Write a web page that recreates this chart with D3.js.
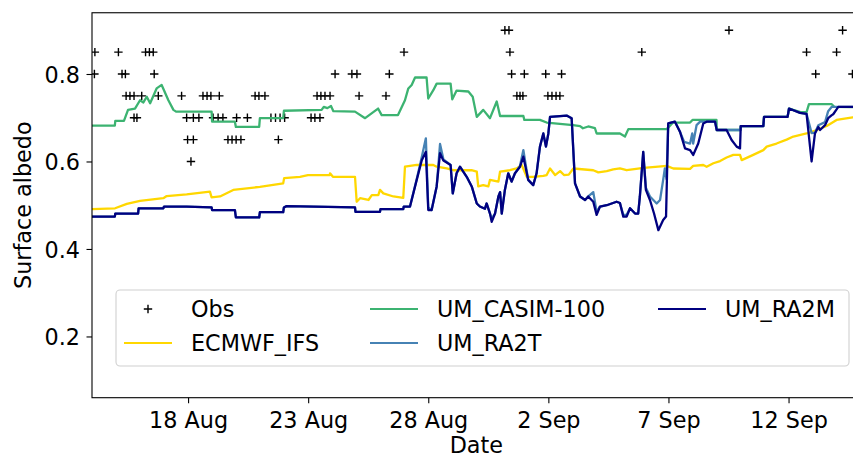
<!DOCTYPE html>
<html>
<head>
<meta charset="utf-8">
<script src="https://cdn.jsdelivr.net/npm/d3@7"></script>
<style>
  html, body { margin: 0; padding: 0; background: #fff; }
  svg { display: block; font-family: "DejaVu Sans", sans-serif; }
</style>
</head>
<body>
<svg id="chart" width="853" height="457"></svg>
<script>
// ---------------- DATA (time = days since 14 Aug 2018 00:00 UTC) ----------------
const xTickDates = ["2018-08-18", "2018-08-23", "2018-08-28", "2018-09-02", "2018-09-07", "2018-09-12"];
const yTicks = [0.2, 0.4, 0.6, 0.8];

const obs = [
  [17.19,0.9],[17.36,0.9],[26.52,0.9],[31.25,0.9],
  [0.12,0.85],[1.10,0.85],[2.23,0.85],[2.39,0.85],[2.55,0.85],[12.99,0.85],[17.40,0.85],[22.89,0.85],[29.75,0.85],[31.00,0.85],
  [0.10,0.8],[1.25,0.8],[1.39,0.8],[2.59,0.8],[10.12,0.8],[10.82,0.8],[11.03,0.8],[12.38,0.8],[17.47,0.8],[18.0,0.8],[18.89,0.8],[19.55,0.8],[30.13,0.8],[31.66,0.8],
  [1.42,0.75],[1.58,0.75],[1.75,0.75],[2.07,0.75],[2.76,0.75],[3.73,0.75],[4.62,0.75],[4.79,0.75],[4.95,0.75],[5.30,0.75],[6.79,0.75],[6.95,0.75],[7.20,0.75],[9.37,0.75],[9.53,0.75],[9.70,0.75],[9.91,0.75],[11.12,0.75],[12.24,0.75],[17.69,0.75],[17.82,0.75],[17.94,0.75],[18.98,0.75],[19.15,0.75],[19.32,0.75],[19.48,0.75],
  [1.75,0.7],[1.87,0.7],[3.94,0.7],[4.22,0.7],[4.45,0.7],[5.04,0.7],[5.25,0.7],[5.45,0.7],[6.02,0.7],[6.47,0.7],[7.45,0.7],[7.64,0.7],[7.83,0.7],[8.02,0.7],[9.12,0.7],[9.28,0.7],[9.49,0.7],
  [3.98,0.65],[4.22,0.65],[5.66,0.65],[5.83,0.65],[6.0,0.65],[6.20,0.65],[7.76,0.65],
  [4.12,0.6]
];

const ecmwf = [
  [0,0.491],[0.96,0.493],[1.45,0.503],[2.0,0.510],[2.97,0.516],[3.11,0.521],[3.94,0.525],[4.91,0.531],[4.98,0.518],[5.33,0.520],
  [5.88,0.535],[6.99,0.542],[7.96,0.550],[8.0,0.562],[8.66,0.565],[8.99,0.569],[9.9,0.569],[9.91,0.573],[10.03,0.565],[10.95,0.565],
  [11.02,0.508],[11.16,0.516],[11.51,0.512],[11.65,0.523],[11.92,0.523],[11.99,0.535],[12.13,0.527],[12.55,0.520],[12.96,0.517],[13.03,0.588],
  [13.52,0.592],[14.21,0.592],[14.35,0.588],[14.77,0.584],[15.05,0.580],[15.8,0.580],[16.02,0.577],[16.08,0.543],[16.29,0.546],[16.5,0.543],
  [16.57,0.558],[16.92,0.554],[16.99,0.577],[17.4,0.580],[17.68,0.584],[17.89,0.592],[18.1,0.565],[18.37,0.565],[18.79,0.567],[18.93,0.569],
  [19.07,0.584],[19.28,0.569],[19.49,0.578],[19.65,0.569],[19.85,0.570],[20.04,0.584],[20.87,0.580],[21.08,0.575],[21.43,0.578],[21.7,0.582],
  [21.98,0.584],[22.26,0.580],[22.81,0.584],[23.09,0.586],[23.93,0.590],[24.2,0.584],[24.9,0.583],[25.03,0.590],[25.45,0.592],[25.59,0.588],
  [25.87,0.596],[26.15,0.601],[26.42,0.609],[26.7,0.615],[26.98,0.615],[27.05,0.603],[27.53,0.615],[27.95,0.626],[28.09,0.634],[28.5,0.641],
  [28.92,0.650],[29.2,0.657],[29.75,0.664],[30.17,0.672],[30.59,0.681],[31.0,0.695],[31.67,0.701],[32,0.702]
];

const casim = [
  [0,0.682],[0.95,0.682],[0.97,0.693],[1.33,0.693],[1.5,0.718],[1.79,0.721],[2.0,0.740],[2.14,0.735],[2.28,0.748],[2.42,0.733],
  [2.69,0.767],[2.9,0.775],[3.18,0.740],[3.39,0.718],[3.5,0.714],[4.98,0.714],[5.0,0.691],[5.95,0.691],[5.99,0.679],[6.96,0.679],
  [6.99,0.699],[7.96,0.699],[7.99,0.716],[9.56,0.718],[9.65,0.725],[9.8,0.722],[9.95,0.727],[10.05,0.715],[10.95,0.714],[11.37,0.699],
  [11.91,0.721],[12.06,0.706],[12.74,0.706],[13.03,0.740],[13.17,0.767],[13.31,0.775],[13.45,0.792],[13.93,0.792],[14.0,0.744],[14.21,0.763],
  [14.35,0.778],[14.93,0.778],[15.0,0.742],[15.18,0.762],[15.67,0.760],[15.85,0.748],[16.02,0.702],[16.29,0.718],[16.57,0.699],[16.85,0.737],
  [16.99,0.704],[17.96,0.704],[18.0,0.695],[18.65,0.695],[18.93,0.689],[20.03,0.683],[20.32,0.681],[20.44,0.676],[20.66,0.680],[20.94,0.676],
  [21.01,0.664],[21.98,0.664],[22.19,0.657],[22.33,0.674],[23.93,0.674],[24.19,0.689],[24.9,0.689],[25.0,0.695],[26.0,0.695],[26.01,0.672],
  [27.0,0.672],[27.01,0.681],[27.95,0.681],[27.98,0.702],[28.96,0.702],[29.02,0.721],[29.5,0.713],[29.75,0.713],[29.85,0.731],[30.8,0.731],
  [30.9,0.725],[32,0.724]
];

const ra2t = [
  [0,0.474],[0.95,0.474],[0.97,0.481],[1.92,0.481],[1.94,0.493],[2.97,0.493],[3.0,0.497],[3.94,0.497],[4.98,0.495],[5.0,0.489],
  [5.95,0.489],[5.99,0.472],[6.96,0.472],[6.99,0.484],[7.96,0.484],[7.99,0.495],[8.1,0.498],[10.95,0.495],[10.97,0.485],[11.99,0.485],
  [12.01,0.491],[12.96,0.491],[12.98,0.497],[13.24,0.497],[13.52,0.560],[13.73,0.610],[13.9,0.653],[14.0,0.495],[14.14,0.489],[14.35,0.543],
  [14.49,0.640],[14.63,0.605],[14.93,0.592],[15.02,0.527],[15.18,0.573],[15.32,0.588],[15.6,0.565],[15.81,0.543],[16.02,0.504],[16.15,0.497],
  [16.36,0.492],[16.43,0.504],[16.57,0.481],[16.64,0.470],[16.78,0.481],[16.92,0.520],[16.99,0.530],[17.06,0.481],[17.19,0.535],[17.33,0.573],
  [17.47,0.554],[17.61,0.573],[17.82,0.590],[17.96,0.626],[18.16,0.558],[18.37,0.546],[18.51,0.573],[18.65,0.634],[18.79,0.664],[18.9,0.634],
  [19.0,0.664],[19.07,0.702],[19.76,0.705],[19.97,0.699],[20.11,0.550],[20.32,0.520],[20.53,0.512],[20.66,0.520],[20.87,0.530],[21.01,0.485],
  [21.15,0.497],[21.43,0.500],[21.84,0.508],[21.98,0.505],[22.12,0.478],[22.26,0.478],[22.4,0.493],[22.61,0.481],[22.74,0.481],[22.81,0.520],
  [22.95,0.622],[23.06,0.540],[23.23,0.520],[23.51,0.504],[23.65,0.512],[23.78,0.558],[23.85,0.584],[23.92,0.560],[23.99,0.687],[24.27,0.691],
  [24.48,0.668],[24.65,0.645],[24.9,0.641],[24.99,0.664],[25.03,0.641],[25.17,0.683],[25.32,0.691],[25.94,0.691],[26.01,0.672],[27.0,0.672],
  [27.01,0.681],[27.95,0.681],[27.98,0.702],[28.96,0.702],[29.02,0.721],[29.48,0.711],[29.75,0.709],[29.96,0.665],[30.1,0.666],[30.24,0.683],
  [30.52,0.690],[30.65,0.715],[30.8,0.725],[32,0.725]
];

const ra2m = [
  [0,0.474],[0.95,0.474],[0.97,0.481],[1.92,0.481],[1.94,0.493],[2.97,0.493],[3.0,0.497],[3.94,0.497],[4.98,0.495],[5.0,0.489],
  [5.95,0.489],[5.99,0.472],[6.96,0.472],[6.99,0.484],[7.96,0.484],[7.99,0.495],[8.1,0.498],[10.95,0.495],[10.97,0.485],[11.99,0.485],
  [12.01,0.491],[12.96,0.491],[12.98,0.497],[13.24,0.497],[13.52,0.558],[13.73,0.603],[13.9,0.622],[14.0,0.489],[14.14,0.489],[14.35,0.543],
  [14.49,0.619],[14.63,0.602],[14.93,0.592],[15.02,0.527],[15.18,0.573],[15.32,0.588],[15.6,0.565],[15.81,0.543],[16.02,0.504],[16.15,0.497],
  [16.36,0.492],[16.43,0.504],[16.57,0.481],[16.64,0.462],[16.78,0.481],[16.92,0.520],[16.99,0.530],[17.06,0.481],[17.19,0.535],[17.33,0.573],
  [17.47,0.554],[17.61,0.573],[17.82,0.588],[17.96,0.611],[18.16,0.558],[18.37,0.546],[18.51,0.573],[18.65,0.634],[18.79,0.664],[18.9,0.634],
  [19.0,0.664],[19.07,0.702],[19.76,0.705],[19.97,0.699],[20.11,0.550],[20.32,0.520],[20.53,0.512],[20.66,0.520],[20.87,0.508],[21.01,0.478],
  [21.15,0.497],[21.43,0.500],[21.84,0.508],[21.98,0.505],[22.12,0.474],[22.26,0.474],[22.4,0.493],[22.61,0.481],[22.74,0.481],[22.81,0.520],
  [22.95,0.622],[23.06,0.535],[23.23,0.512],[23.4,0.481],[23.58,0.443],[23.78,0.466],[23.9,0.474],[23.99,0.687],[24.27,0.691],[24.48,0.668],
  [24.69,0.630],[24.9,0.626],[25.03,0.615],[25.24,0.641],[25.45,0.687],[25.59,0.691],[25.94,0.691],[26.01,0.672],[26.42,0.672],[26.63,0.649],
  [26.84,0.634],[26.98,0.630],[27.01,0.681],[27.95,0.681],[27.98,0.702],[28.96,0.702],[29.02,0.721],[29.48,0.711],[29.75,0.709],[29.96,0.600],
  [30.1,0.664],[30.24,0.679],[30.31,0.672],[30.52,0.683],[30.65,0.699],[30.8,0.706],[30.86,0.708],[31.0,0.719],[31.07,0.725],[32,0.725]
];

const seriesNames = ["Obs", "ECMWF_IFS", "UM_CASIM-100", "UM_RA2T", "UM_RA2M"];
const seriesColors = ["#000000", "#FFD700", "#3CB371", "#4682B4", "#000080"];

// ---------------- CHART ----------------
const t0 = Date.UTC(2018, 7, 14);
const toDate = d => new Date(t0 + d * 864e5);
const FS = 22.3;

const svg = d3.select("#chart");
const mLeft = 92, mRight = 860.6, mTop = 12.75, mBottom = 397.7;

const x = d3.scaleUtc().domain([toDate(0), toDate(32)]).range([mLeft, mRight]);
const y = d3.scaleLinear().domain([0.06, 0.94]).range([mBottom, mTop]);

svg.append("defs").append("clipPath").attr("id", "clip")
  .append("rect").attr("x", mLeft).attr("y", mTop).attr("width", mRight - mLeft).attr("height", mBottom - mTop);

const plot = svg.append("g").attr("clip-path", "url(#clip)");

// Obs markers
plot.append("g").selectAll("path").data(obs).join("path")
  .attr("d", d => {
    const cx = x(toDate(d[0])), cy = y(d[1]), h = 4.2;
    return `M${cx - h},${cy}H${cx + h}M${cx},${cy - h}V${cy + h}`;
  })
  .attr("stroke", seriesColors[0]).attr("stroke-width", 1.4).attr("fill", "none");

const line = d3.line().x(d => x(toDate(d[0]))).y(d => y(d[1]));
[[ecmwf, 1], [casim, 2], [ra2t, 3], [ra2m, 4]].forEach(([data, i]) => {
  plot.append("path").datum(data).attr("d", line)
    .attr("fill", "none").attr("stroke", seriesColors[i])
    .attr("stroke-width", 2.3).attr("stroke-linejoin", "round").attr("stroke-linecap", "square");
});

// Axes
const xAxis = svg.append("g").attr("transform", `translate(0,${mBottom})`)
  .call(d3.axisBottom(x).tickValues(xTickDates.map(s => new Date(s + "T00:00:00Z")))
    .tickFormat(d3.utcFormat("%-d %b")).tickSize(5.5).tickPadding(6));
const yAxis = svg.append("g").attr("transform", `translate(${mLeft},0)`)
  .call(d3.axisLeft(y).tickValues(yTicks).tickFormat(d3.format(".1f")).tickSize(5.5).tickPadding(6));
[xAxis, yAxis].forEach(g => {
  g.select(".domain").remove();
  g.selectAll(".tick line").attr("stroke", "#000").attr("stroke-width", 1.1);
  g.selectAll(".tick text").attr("fill", "#000").style("font-size", FS + "px").style("font-family", "DejaVu Sans");
});
xAxis.selectAll(".tick text").attr("dy", null).attr("y", 30);
yAxis.selectAll(".tick text").attr("dy", "0.37em").attr("x", -12);

// Frame
svg.append("rect").attr("x", mLeft).attr("y", mTop).attr("width", mRight - mLeft).attr("height", mBottom - mTop)
  .attr("fill", "none").attr("stroke", "#000").attr("stroke-width", 1.1);

// Axis labels
svg.append("text").attr("x", (mLeft + mRight) / 2).attr("y", 452.5).attr("text-anchor", "middle")
  .style("font-size", FS + "px").attr("fill", "#000").text("Date");
svg.append("text").attr("transform", `translate(31,${(mTop + mBottom) / 2}) rotate(-90)`).attr("text-anchor", "middle")
  .style("font-size", FS + "px").attr("fill", "#000").text("Surface albedo");

// Legend
const lg = svg.append("g");
lg.append("rect").attr("x", 116).attr("y", 290).attr("width", 733).attr("height", 76).attr("rx", 4)
  .attr("fill", "#fff").attr("fill-opacity", 0.8).attr("stroke", "#d0d0d0").attr("stroke-width", 1.1);
const colX = [124, 370, 658];
const rowY = [309, 343];
const legendPos = [[0, 0], [0, 1], [1, 0], [1, 1], [2, 0]];
seriesNames.forEach((name, i) => {
  const [c, r] = legendPos[i];
  const hx = colX[c], hy = rowY[r];
  if (i === 0) {
    const cx = hx + 24, h = 4.2;
    lg.append("path").attr("d", `M${cx - h},${hy}H${cx + h}M${cx},${hy - h}V${hy + h}`)
      .attr("stroke", seriesColors[0]).attr("stroke-width", 1.4);
  } else {
    lg.append("line").attr("x1", hx).attr("x2", hx + 48).attr("y1", hy).attr("y2", hy)
      .attr("stroke", seriesColors[i]).attr("stroke-width", 2.2);
  }
  lg.append("text").attr("x", hx + 67).attr("y", hy + 8.3).style("font-size", FS + "px").attr("fill", "#000").text(name);
});
</script>
</body>
</html>
